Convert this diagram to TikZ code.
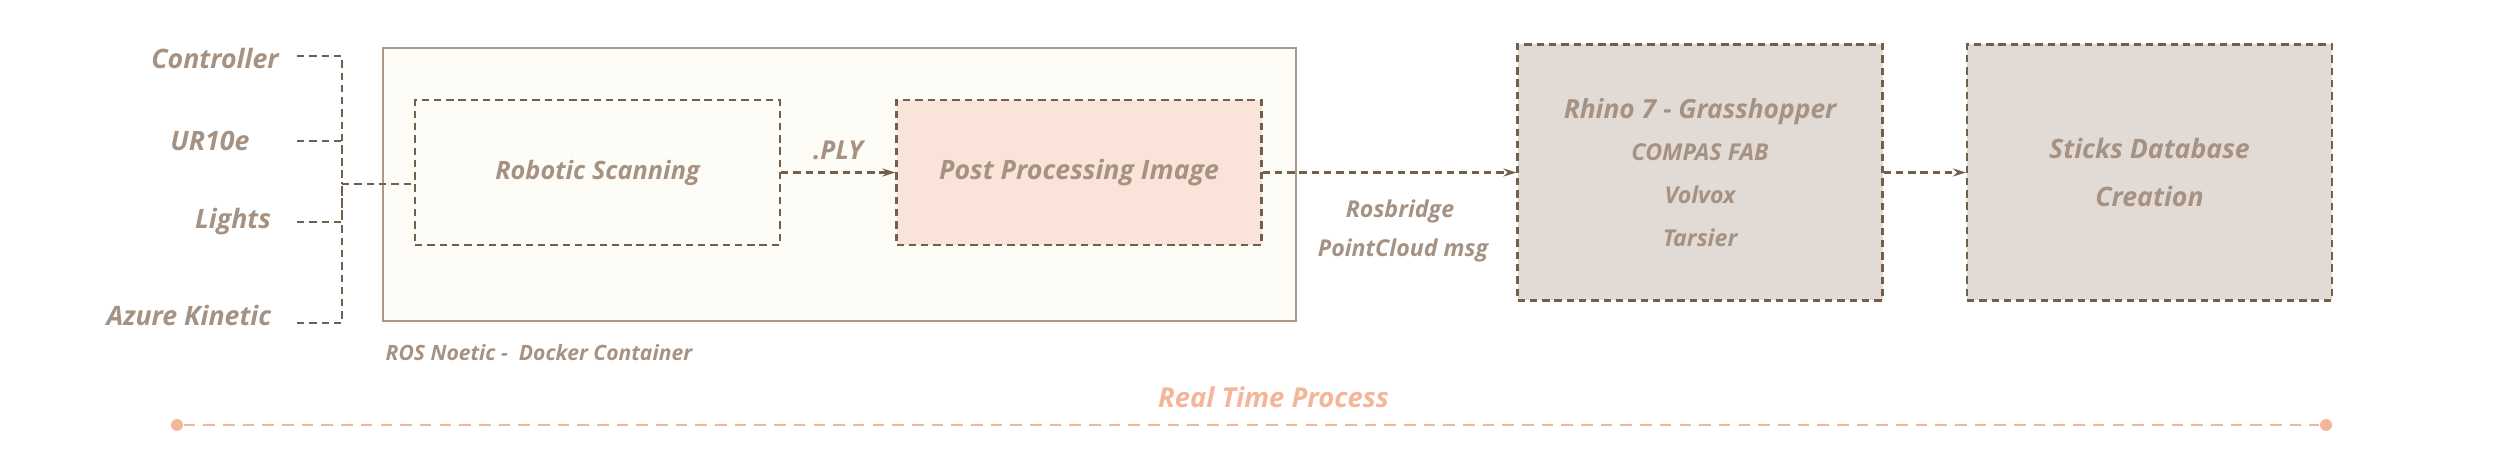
\documentclass[tikz,border=0pt]{standalone}
\usepackage{fontspec}
\setmainfont{Open Sans}
\usetikzlibrary{positioning, arrows.meta, calc}
\definecolor{labelbrown}{RGB}{166, 146, 130}
\definecolor{linebrown}{RGB}{112, 96, 76}
\definecolor{creamfill}{RGB}{254, 252, 247}
\definecolor{frameline}{RGB}{172, 152, 134}
\definecolor{peachfill}{RGB}{250, 227, 216}
\definecolor{greyfill}{RGB}{226, 219, 213}
\definecolor{timeorange}{RGB}{244, 182, 152}

\begin{document}
\begin{tikzpicture}[
    % Text Styles
    inlabel/.style={font=\bfseries\itshape\fontsize{7.6}{9}\selectfont, text=labelbrown, inner sep=0pt},
    smalllabel/.style={inlabel, font=\bfseries\itshape\fontsize{6.6}{12.2}\selectfont, align=center},
    % Box Styles
    framebox/.style={draw=frameline, line width=0.45pt, fill=creamfill, minimum width=9.13cm, minimum height=2.73cm},
    stagebox/.style={draw=linebrown, line width=0.6pt, dash pattern=on 2.1pt off 1.4pt, minimum width=3.65cm, minimum height=1.45cm},
    toolbox/.style={stagebox, fill=greyfill, minimum height=2.56cm},
    tdot/.style={circle, fill=timeorange, inner sep=0pt, minimum size=0.12cm},
    % Edge Styles
    flow/.style={draw=linebrown, line width=0.6pt, dash pattern=on 2.1pt off 1.4pt},
    flowarrow/.style={flow, -{Stealth[length=1.3mm, width=0.8mm]}},
    timeline/.style={draw=timeorange, line width=0.85pt, dash pattern=on 3.3pt off 2.3pt}
]
\useasboundingbox (0,0) rectangle (25,4.56);

% Docker container frame
\node[framebox] (docker) at (8.395, 2.715) {};
\node[inlabel, font=\bfseries\itshape\fontsize{6}{7}\selectfont, anchor=west] (docker-label) at (3.85, 1.03) {ROS Noetic -\ \ Docker Container};

% Inputs
\node[inlabel] (ctrl) at (2.15, 3.98) {Controller};
\node[inlabel] (ur) at (2.10, 3.15) {UR10e};
\node[inlabel] (lights) at (2.33, 2.34) {Lights};
\node[inlabel] (azure) at (1.89, 1.41) {Azure Kinetic};

% Stages
\node[stagebox, fill=creamfill, inlabel, font=\bfseries\itshape\fontsize{7.2}{9}\selectfont] (scan) at (5.975, 2.835) {Robotic Scanning};
\node[stagebox, fill=peachfill, inlabel] (post) at (10.79, 2.835) {Post Processing Image};
\node[toolbox, smalllabel] (rhino) at (17.00, 2.835) {{\fontsize{7.5}{12.2}\selectfont Rhino 7 - Grasshopper}\\COMPAS FAB\\Volvox\\Tarsier};
\node[toolbox, inlabel, align=center, font=\bfseries\itshape\fontsize{7.6}{13.4}\selectfont] (sticks) at (21.495, 2.835) {Sticks Database\\Creation};

% Edge Labels
\node[inlabel, font=\bfseries\itshape\fontsize{7.4}{9}\selectfont] (ply) at (8.38, 3.06) {.PLY};
\node[smalllabel] (rosbridge) at (14.00, 2.45) {Rosbridge};
\node[smalllabel] (pcmsg) at (14.03, 2.06) {PointCloud msg};

% Bracket from inputs into the scanner
\coordinate (ctrl-end) at (2.97, 4.00);
\coordinate (ur-end) at (2.97, 3.15);
\coordinate (lights-end) at (2.97, 2.34);
\coordinate (azure-end) at (2.97, 1.33);
\coordinate (bracket) at (3.42, 2.72);
\draw[flow] (ctrl-end) -| (bracket);
\draw[flow] (azure-end) -| (bracket);
\draw[flow] (ur-end) -| (bracket);
\draw[flow] (lights-end) -| (bracket);
\draw[flow] (bracket) -- (scan.west |- bracket);

% Flow between stages
\draw[flowarrow] (scan) -- (post);
\draw[flowarrow] (post) -- (rhino);
\draw[flowarrow] (rhino) -- (sticks);

% Real time line
\node[inlabel, text=timeorange, font=\bfseries\itshape\fontsize{7.8}{9}\selectfont] (realtime) at (12.735, 0.59) {Real Time Process};
\node[tdot] (tl-start) at (1.77, 0.31) {};
\node[tdot] (tl-end) at (23.26, 0.31) {};
\draw[timeline] (tl-start) -- (tl-end);

\end{tikzpicture}
\end{document}
